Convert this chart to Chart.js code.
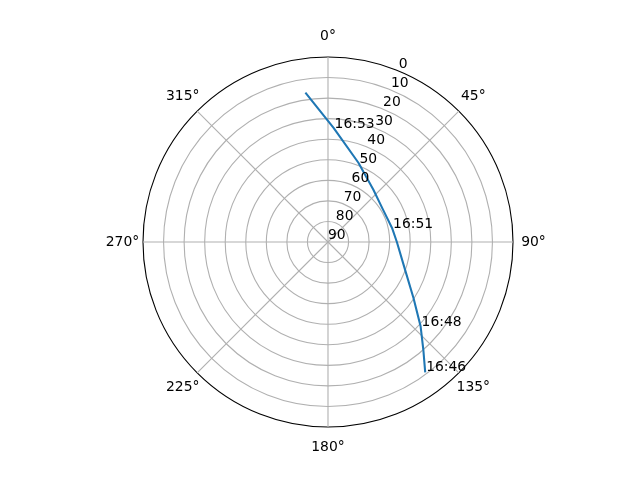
<!DOCTYPE html>
<html>
<head>
<meta charset="utf-8">
<script src="https://cdn.jsdelivr.net/npm/chart.js@4.4.0/dist/chart.umd.min.js"></script>
<style>
html,body{margin:0;padding:0;background:#ffffff;}
#wrap{width:640px;height:480px;}
</style>
</head>
<body>
<div id="wrap"><canvas id="c" width="640" height="480"></canvas></div>
<script>
// ---- data ----
const angleLabels = ['0°','45°','90°','135°','180°','225°','270°','315°'];
const elevationTicks = [0, 10, 20, 30, 40, 50, 60, 70, 80, 90];
const radialLabelAngle = 22.5;
// satellite track (azimuth in degrees, elevation in degrees), 16:46 -> end
const trackAz = [143.1, 138.5, 132.3, 123.2, 109.7, 90.0, 77.6, 58.5, 40.8, 21.0, 2.8, -8.4];
const trackEl = [11.3, 20.0, 29.1, 40.3, 50.2, 56.5, 58.1, 58.9, 56.3, 48.7, 34.4, 16.9];
// time annotations
const timeLabels = ['16:46', '16:48', '16:51', '16:53'];
const timeAz = [143.1, 132.3, 77.6, 2.8];
const timeEl = [11.3, 29.1, 58.1, 34.4];

const FONT = '13.9px "DejaVu Sans"';
Chart.defaults.font.family = '"DejaVu Sans"';

const azToIndex = az => az / 360 * angleLabels.length;
const elToValue = el => 90 - el;   // radial value = zenith distance

const polarOverlay = {
  id: 'polarOverlay',
  afterDatasetsDraw(chart) {
    const s = chart.scales.r;
    const ctx = chart.ctx;
    ctx.save();
    // track line
    ctx.beginPath();
    trackAz.forEach((az, i) => {
      const p = s.getPointPositionForValue(azToIndex(az), elToValue(trackEl[i]));
      if (i === 0) ctx.moveTo(p.x, p.y); else ctx.lineTo(p.x, p.y);
    });
    ctx.strokeStyle = '#1f77b4';
    ctx.lineWidth = 2.08;
    ctx.lineJoin = 'round';
    ctx.lineCap = 'square';
    ctx.stroke();

    ctx.font = FONT;
    ctx.fillStyle = '#000000';
    // radial tick labels
    ctx.textAlign = 'left';
    ctx.textBaseline = 'bottom';
    elevationTicks.forEach(t => {
      const p = s.getPointPositionForValue(azToIndex(radialLabelAngle), elToValue(t));
      ctx.fillText(String(t), p.x, p.y);
    });
    // angular labels
    ctx.textAlign = 'center';
    ctx.textBaseline = 'middle';
    angleLabels.forEach((l, i) => {
      const p = s.getPointPosition(i, s.drawingArea + 20.5);
      ctx.fillText(l, p.x, p.y);
    });
    // time annotations
    ctx.textAlign = 'left';
    ctx.textBaseline = 'alphabetic';
    timeLabels.forEach((l, i) => {
      const p = s.getPointPositionForValue(azToIndex(timeAz[i]), elToValue(timeEl[i]));
      ctx.fillText(l, p.x + 1, p.y);
    });
    ctx.restore();
  }
};

new Chart(document.getElementById('c'), {
  type: 'radar',
  data: {
    labels: angleLabels,
    datasets: []
  },
  options: {
    responsive: false,
    maintainAspectRatio: false,
    animation: false,
    devicePixelRatio: 1,
    layout: { padding: { left: 80, right: 64, top: 57, bottom: 53 } },
    plugins: { legend: { display: false }, tooltip: { enabled: false } },
    scales: {
      r: {
        min: 0,
        max: 90,
        startAngle: 0,
        ticks: { stepSize: 10, display: false },
        grid: {
          circular: true,
          color: c => (c.tick && c.tick.value === 90) ? '#000000' : '#b0b0b0',
          lineWidth: 1.1
        },
        angleLines: { display: true, color: '#b0b0b0', lineWidth: 1.1 },
        pointLabels: { display: false }
      }
    }
  },
  plugins: [polarOverlay]
});
</script>
</body>
</html>
